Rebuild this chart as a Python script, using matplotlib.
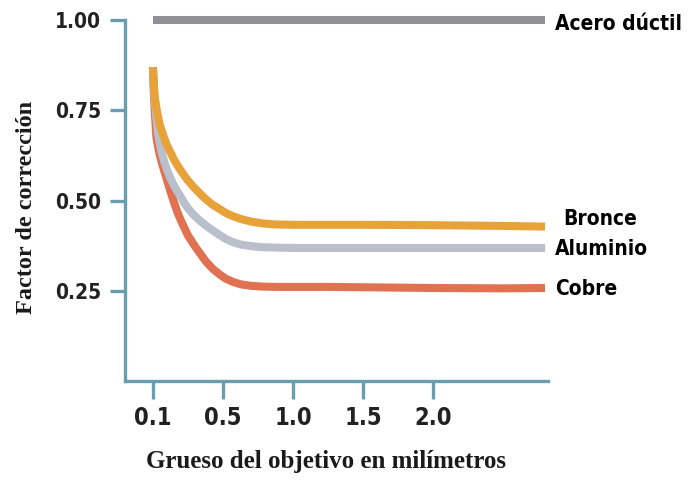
import numpy as np
import matplotlib
matplotlib.use("Agg")
import matplotlib.pyplot as plt

# grosor (mm) y factores de correccion
grueso = [0.1, 0.105, 0.11, 0.12, 0.13, 0.14, 0.15, 0.165, 0.18, 0.2, 0.22, 0.24,
          0.26, 0.28, 0.3, 0.33, 0.36, 0.4, 0.44, 0.48, 0.52, 0.57, 0.63, 0.7,
          0.78, 0.88, 1.0, 1.25, 1.5, 2.0, 2.5, 2.8]
bronce = [0.87, 0.825, 0.79, 0.757, 0.731, 0.709, 0.694, 0.673, 0.654, 0.634, 0.614, 0.598,
          0.583, 0.569, 0.556, 0.539, 0.524, 0.505, 0.489, 0.477, 0.466, 0.457, 0.449, 0.442,
          0.437, 0.434, 0.433, 0.433, 0.433, 0.432, 0.43, 0.428]
aluminio = [0.87, 0.82, 0.78, 0.73, 0.684, 0.657, 0.634, 0.608, 0.586, 0.562, 0.543, 0.525,
            0.51, 0.493, 0.479, 0.462, 0.448, 0.432, 0.418, 0.405, 0.394, 0.385, 0.378, 0.374,
            0.371, 0.37, 0.369, 0.369, 0.369, 0.369, 0.369, 0.369]
cobre = [0.87, 0.80, 0.75, 0.675, 0.648, 0.625, 0.606, 0.582, 0.558, 0.526, 0.496, 0.468,
         0.445, 0.424, 0.404, 0.381, 0.36, 0.333, 0.312, 0.296, 0.284, 0.275, 0.268, 0.264,
         0.262, 0.261, 0.261, 0.261, 0.26, 0.258, 0.257, 0.258]
acero_x = [0.1, 2.8]
acero = [1.0, 1.0]

xticks = [0.1, 0.5, 1.0, 1.5, 2.0]
xticklabels = ["0.1", "0.5", "1.0", "1.5", "2.0"]
yticks = [0.25, 0.50, 0.75, 1.00]
yticklabels = ["0.25", "0.50", "0.75", "1.00"]

# nombre, x, y, color, y de la etiqueta, orden de dibujo
series = [
    ("Acero dúctil", acero_x, acero, "#8e9297", 0.99, 4),
    ("Bronce", grueso, bronce, "#e8a23a", 0.45, 3),
    ("Aluminio", grueso, aluminio, "#b9bfcb", 0.365, 2),
    ("Cobre", grueso, cobre, "#e07252", 0.255, 1),
]

SPINE = "#6b9db0"
SANS = ["DejaVu Sans"]
SERIF = ["Liberation Serif", "DejaVu Serif"]


# escala del eje x: 0.1-0.5 ocupa lo mismo que 0.5-1.0
def fwd(x):
    x = np.asarray(x, dtype=float)
    return np.where(x <= 0.5, (x - 0.1) / 0.4, 1 + (x - 0.5) / 0.5)


def inv(y):
    y = np.asarray(y, dtype=float)
    return np.where(y <= 1, 0.1 + 0.4 * y, 0.5 + 0.5 * (y - 1))


fig = plt.figure(figsize=(6.9, 4.8), dpi=100)
ax = fig.add_axes([0.181, 0.206, 0.613, 0.752])
ax.set_xscale("function", functions=(fwd, inv))

for name, xs, ys, color, ylab, z in series:
    ax.plot(xs, ys, color=color, lw=5.8, solid_capstyle="butt",
            solid_joinstyle="round", clip_on=False, zorder=z)
    ax.text(2.87 if name != "Bronce" else 2.93, ylab, name, fontsize=15,
            fontweight="bold", family=SANS, stretch="condensed",
            va="center", ha="left")

ax.set_xlim(-0.06, 2.82)
ax.set_ylim(0, 1.0)

ax.spines["top"].set_visible(False)
ax.spines["right"].set_visible(False)
for s in ["left", "bottom"]:
    ax.spines[s].set_color(SPINE)
    ax.spines[s].set_linewidth(2.4)

ax.set_xticks(xticks)
ax.set_xticklabels(xticklabels)
ax.set_yticks(yticks)
ax.set_yticklabels(yticklabels)
ax.tick_params(axis="x", length=13, width=2.4, color=SPINE, pad=5)
ax.tick_params(axis="y", length=11, width=2.4, color=SPINE, pad=6)
for lab in ax.get_xticklabels():
    lab.set_fontsize(17)
for lab in ax.get_yticklabels():
    lab.set_fontsize(15)
for lab in ax.get_xticklabels() + ax.get_yticklabels():
    lab.set_family(SANS)
    lab.set_stretch("condensed")
    lab.set_fontweight("bold")
    lab.set_color("#222222")

ax.set_xlabel("Grueso del objetivo en milímetros", family=SERIF,
              fontweight="bold", fontsize=18, color="#1a1a1a")
ax.set_ylabel("Factor de corrección", family=SERIF,
              fontweight="bold", fontsize=17.5, color="#1a1a1a")
ax.xaxis.set_label_coords(0.475, -0.19)
ax.yaxis.set_label_coords(-0.207, 0.482)

fig.savefig("out.png", dpi=100)
